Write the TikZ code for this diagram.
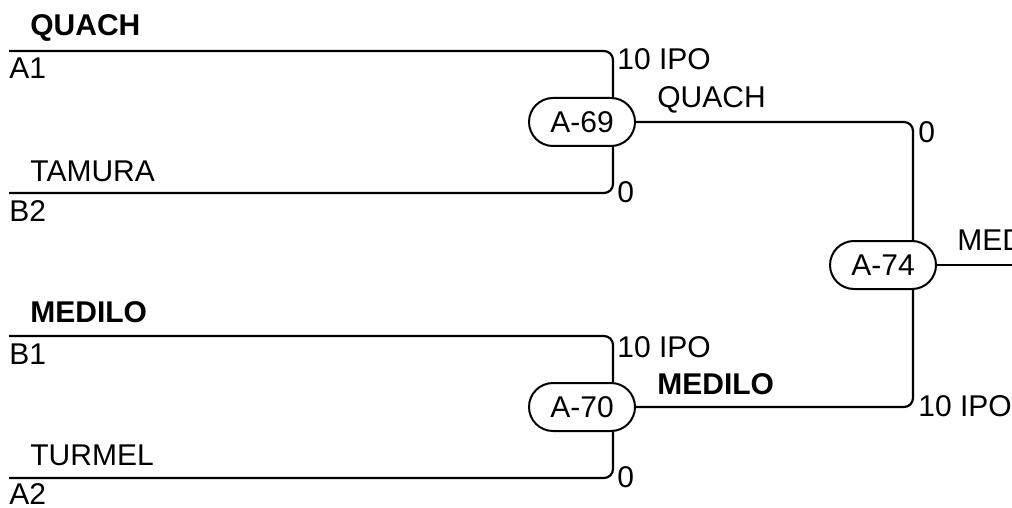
\documentclass[tikz,border=0pt]{standalone}
\usepackage{fontspec}
\setmainfont{Liberation Sans}
\usetikzlibrary{shapes.misc}

\tikzset{
  wire/.style={line width=1.1pt, rounded corners=4.5pt},
  game/.style={rounded rectangle, draw, line width=1pt, minimum width=53pt,
    minimum height=24pt, inner sep=0pt, font=\fontsize{15}{18}\selectfont},
  lbl/.style={inner sep=0pt, anchor=base west, font=\fontsize{15}{18}\selectfont},
  boldlbl/.style={lbl, font=\fontsize{15}{18}\selectfont\bfseries},
}

\begin{document}
\begin{tikzpicture}[x=0.5pt, y=-0.5pt]
\useasboundingbox (0,0) rectangle (1012,508);
% games
\node[game] (g69) at (582,122) {A-69};
\node[game] (g70) at (582,407) {A-70};
\node[game] (g74) at (883,265) {A-74};
% columns where the lines turn down
\coordinate (j69) at (613,0);
\coordinate (j74) at (913,0);
% entry lines
\coordinate (e1) at (9,51);
\coordinate (e2) at (9,193);
\coordinate (e3) at (9,336);
\coordinate (e4) at (9,478);
\coordinate (out) at (1030,265);
\draw[wire] (e1) -| (j69 |- g69.north);
\draw[wire] (e2) -| (j69 |- g69.south);
\draw[wire] (e3) -| (j69 |- g70.north);
\draw[wire] (e4) -| (j69 |- g70.south);
\draw[wire] (g69.east) -| (j74 |- g74.north);
\draw[wire] (g70.east) -| (j74 |- g74.south);
\draw[wire] (g74.east) -- (out);
% players
\node[boldlbl] (n1) at (30,36) {QUACH};
\node[lbl] (s1) at (9,79) {A1};
\node[lbl] (n2) at (30,181) {TAMURA};
\node[lbl] (s2) at (9,221) {B2};
\node[boldlbl] (n3) at (30,322) {MEDILO};
\node[lbl] (s3) at (9,364) {B1};
\node[lbl] (n4) at (30,465) {TURMEL};
\node[lbl] (s4) at (9,504) {A2};
% scores
\node[lbl] (r1) at (617,70) {10 IPO};
\node[lbl] (r2) at (617,202) {0};
\node[lbl] (r3) at (617,357) {10 IPO};
\node[lbl] (r4) at (617,487) {0};
\node[lbl] (r5) at (918,142) {0};
\node[lbl] (r6) at (918,416) {10 IPO};
% winners
\node[lbl] (w69) at (657,108) {QUACH};
\node[boldlbl] (w70) at (657,394) {MEDILO};
\node[lbl] (w74) at (957,250) {MEDILO};
\end{tikzpicture}
\end{document}
